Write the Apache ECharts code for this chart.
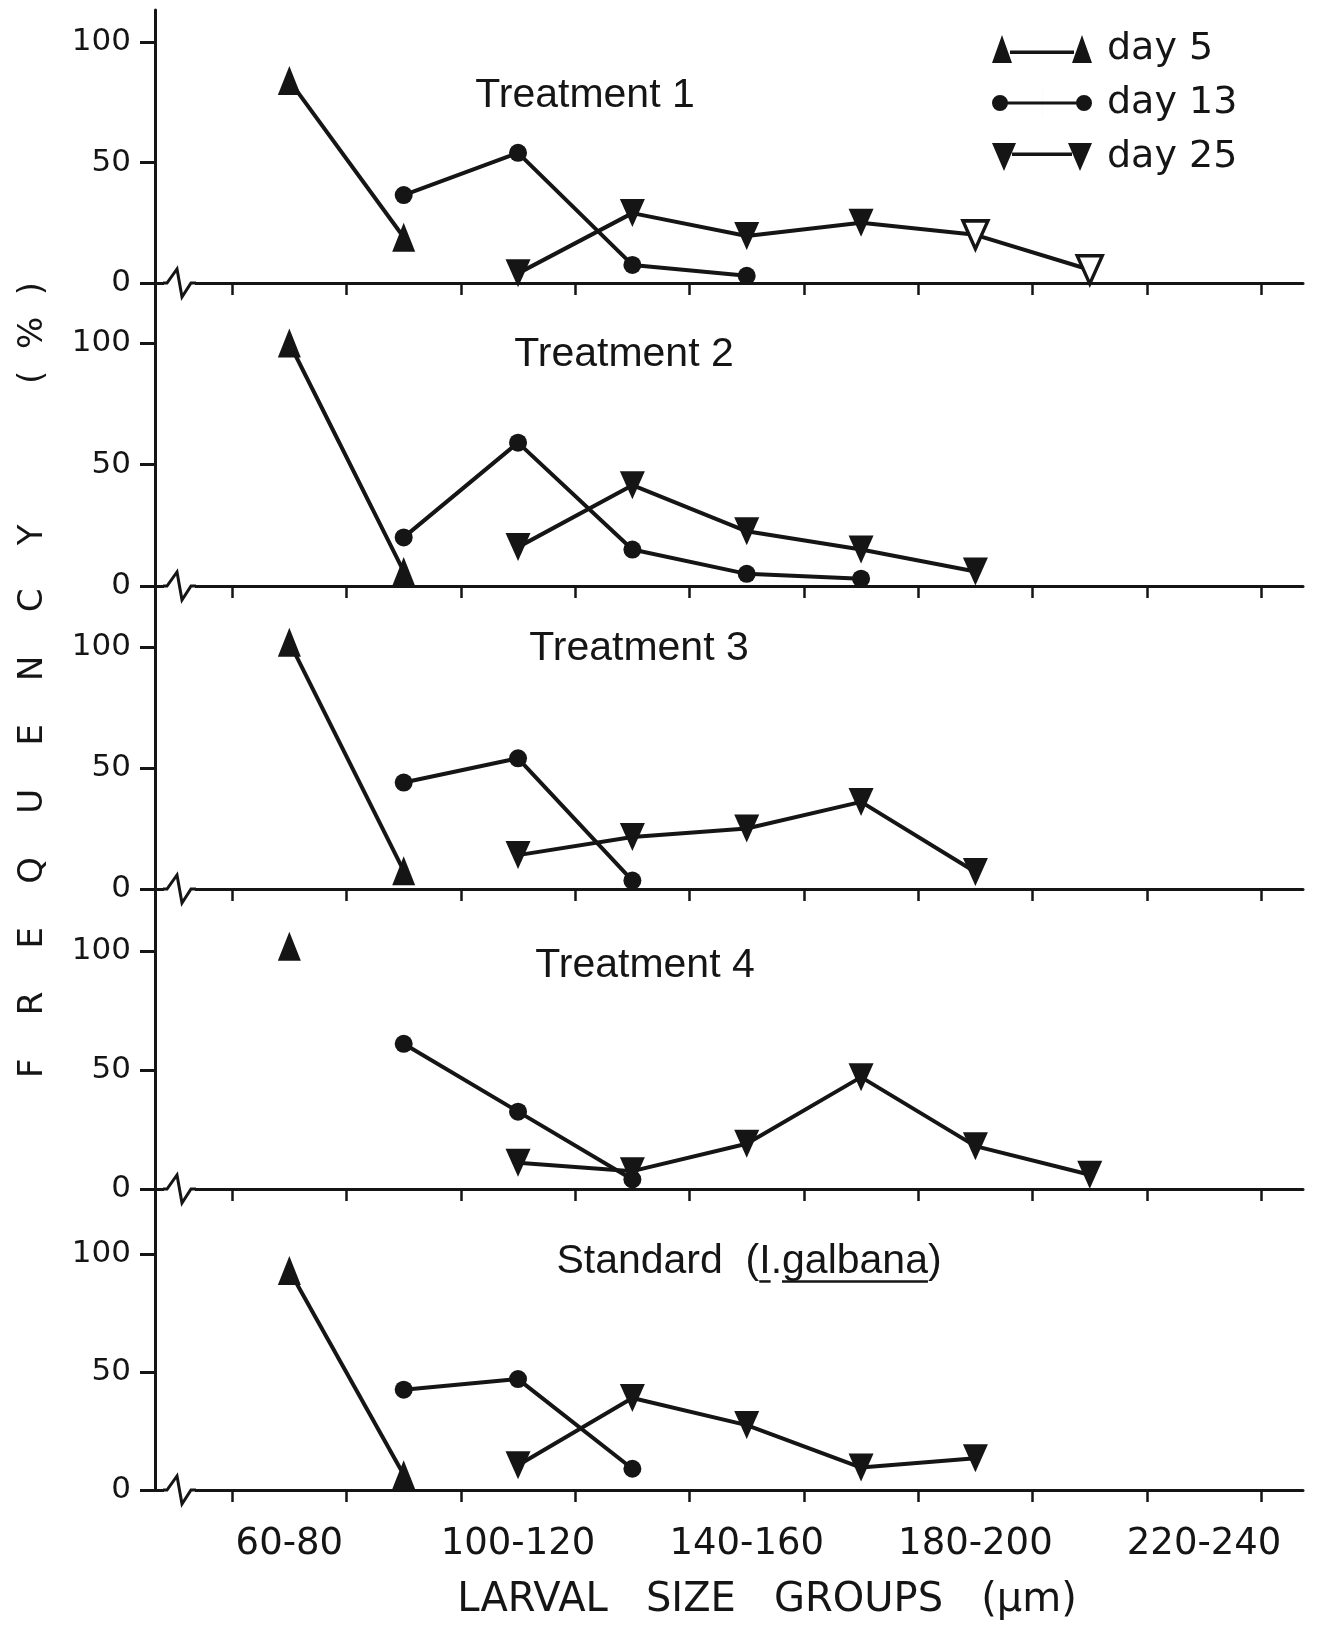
<!DOCTYPE html>
<html><head><meta charset="utf-8">
<script src="https://cdn.jsdelivr.net/npm/echarts@6/dist/echarts.min.js"></script>
<style>html,body{margin:0;padding:0;background:#fff}#c{width:1321px;height:1641px}</style>
</head><body><div id="c"></div>
<script>
// ---------------- data ----------------
const X_CENTERS = [70, 90, 110, 130, 150, 170, 190, 210, 230];
const BOUNDARY_TICKS = [60, 80, 100, 120, 140, 160, 180, 200, 220, 240];
const LABEL_POSITIONS = [70, 110, 150, 190, 230];
const TICK_LABELS = ['60-80', '100-120', '140-160', '180-200', '220-240'];
const Y_TICKS = [0, 50, 100];
const PANEL_TITLES = ['Treatment 1', 'Treatment 2', 'Treatment 3', 'Treatment 4', 'Standard  (I.galbana)'];
const SERIES_NAMES = ['day 5', 'day 13', 'day 25'];
const X_TITLE = 'LARVAL   SIZE   GROUPS   (\u00b5m)';
const Y_TITLE = 'F    R    E    Q    U    E    N    C    Y             (  %  )';

const T1_DAY5  = [84, 19, null, null, null, null, null, null, null];
const T1_DAY13 = [null, 36.5, 54, 7.5, 3, null, null, null, null];
const T1_DAY25 = [null, null, 4, 29, 19.5, 25, 20, 5.5, null];

const T2_DAY5  = [100, 6, null, null, null, null, null, null, null];
const T2_DAY13 = [null, 20, 59, 15, 5, 3, null, null, null];
const T2_DAY25 = [null, null, 16, 41.5, 22.5, 15, 6, null, null];

const T3_DAY5  = [102, 7.5, null, null, null, null, null, null, null];
const T3_DAY13 = [null, 44, 54, 3.5, null, null, null, null, null];
const T3_DAY25 = [null, null, 14, 21.5, 25, 36, 7, null, null];

const T4_DAY5  = [102, null, null, null, null, null, null, null, null];
const T4_DAY13 = [null, 61, 32.5, 4, null, null, null, null, null];
const T4_DAY25 = [null, null, 11, 7.5, 19, 47, 18, 6, null];

const STD_DAY5  = [93, 6.5, null, null, null, null, null, null, null];
const STD_DAY13 = [null, 42.5, 47, 9, null, null, null, null, null];
const STD_DAY25 = [null, null, 10.5, 39, 27.5, 9.5, 13.5, null, null];

// open (hollow) symbols: Treatment 1, day 25, these size-group centres
const OPEN_T1_DAY25 = [190, 210];

// ---------------- layout ----------------
const PANEL_DATA = [
  [T1_DAY5, T1_DAY13, T1_DAY25],
  [T2_DAY5, T2_DAY13, T2_DAY25],
  [T3_DAY5, T3_DAY13, T3_DAY25],
  [T4_DAY5, T4_DAY13, T4_DAY25],
  [STD_DAY5, STD_DAY13, STD_DAY25]
];
const LAYOUT = [
  {top: 10,   y100: 42,   y0: 283,  tx: 585, ty: 96},
  {top: 283,  y100: 343,  y0: 586,  tx: 624, ty: 355},
  {top: 586,  y100: 647,  y0: 889,  tx: 639, ty: 649},
  {top: 889,  y100: 951,  y0: 1189, tx: 645, ty: 966},
  {top: 1189, y100: 1254, y0: 1490, tx: 749, ty: 1262}
];
const LEFT = 155, RIGHT = 18, X_MIN = 46.5, X_MAX = 247.3;
const INK = '#151515';
const FONT = '"DejaVu Sans", sans-serif';
const TFONT = '"Liberation Sans", Arial, sans-serif';

const MARKERS = [
  {symbol: 'triangle', symbolSize: [23, 29], symbolRotate: 0},
  {symbol: 'circle', symbolSize: 18, symbolRotate: 0},
  {symbol: 'triangle', symbolSize: [25, 28], symbolRotate: 180}
];

const ICONS = [
  'path://M0,28 L10,0 L20,28 Z M18,15.5 L82,15.5 L82,19 L18,19 Z M80,28 L90,0 L100,28 Z',
  'path://M0,14 A8,8 0 1 1 16,14 A8,8 0 1 1 0,14 Z M14,12.5 L86,12.5 L86,15.5 L14,15.5 Z M84,14 A8,8 0 1 1 100,14 A8,8 0 1 1 84,14 Z M50,0 L50.02,0 L50.02,28 L50,28 Z',
  'path://M0,0 L24,0 L12,28 Z M20,9.5 L80,9.5 L80,13 L20,13 Z M76,0 L100,0 L88,28 Z'
];

const grids = [], xAxes = [], yAxes = [], series = [];
LAYOUT.forEach((L, i) => {
  grids.push({left: LEFT, right: RIGHT, top: L.top, height: L.y0 - L.top, outerBoundsMode: 'none', containLabel: false});
  const last = i === LAYOUT.length - 1;
  xAxes.push({
    gridIndex: i, type: 'value', min: X_MIN, max: X_MAX,
    axisLine: {show: true, onZero: false, lineStyle: {color: INK, width: 3}},
    axisTick: {show: true, customValues: BOUNDARY_TICKS, length: 12, lineStyle: {color: INK, width: 2.5}},
    axisLabel: {show: last, customValues: LABEL_POSITIONS, margin: 36, fontSize: 37, fontFamily: FONT, color: INK,
      formatter: v => TICK_LABELS[LABEL_POSITIONS.indexOf(v)] || ''},
    splitLine: {show: false},
    name: last ? X_TITLE : '', nameLocation: 'middle', nameGap: 91,
    nameTextStyle: {fontSize: 40, fontFamily: FONT, color: INK, padding: [0, 0, 0, 76]}
  });
  yAxes.push({
    gridIndex: i, type: 'value', min: 0, max: 100 * (L.y0 - L.top) / (L.y0 - L.y100),
    axisLine: {show: true, lineStyle: {color: INK, width: 3}},
    axisTick: {show: true, customValues: Y_TICKS, length: 15, lineStyle: {color: INK, width: 3}},
    axisLabel: {show: true, customValues: Y_TICKS, margin: 24, fontSize: 31, fontFamily: FONT, color: INK},
    splitLine: {show: false}
  });
  PANEL_DATA[i].forEach((arr, k) => {
    const data = [];
    arr.forEach((v, j) => {
      if (v == null) return;
      const x = X_CENTERS[j];
      if (i === 0 && k === 2 && OPEN_T1_DAY25.indexOf(x) >= 0) {
        data.push({value: [x, v], itemStyle: {color: '#fff', borderColor: INK, borderWidth: 3.5}});
      } else {
        data.push([x, v]);
      }
    });
    series.push(Object.assign({
      type: 'line', name: SERIES_NAMES[k], xAxisIndex: i, yAxisIndex: i, data: data,
      showAllSymbol: true, clip: false, animation: false, silent: true,
      lineStyle: {color: INK, width: 4},
      itemStyle: {color: INK, borderWidth: 0},
      z: 3 + k
    }, MARKERS[k]));
  });
});

// ---------------- graphics (titles, breaks, axis title) ----------------
const graphic = [];
const ctx = document.createElement('canvas').getContext('2d');
const TSIZE = 41;
ctx.font = TSIZE + 'px ' + TFONT;
LAYOUT.forEach((L, i) => {
  graphic.push({type: 'text', x: L.tx, y: L.ty, z: 20,
    style: {text: PANEL_TITLES[i], font: TSIZE + 'px ' + TFONT, fill: INK, align: 'center', verticalAlign: 'middle'}});
  // axis break marks
  graphic.push({type: 'rect', z: 20, shape: {x: LEFT + 9, y: L.y0 - 3, width: 31, height: 6}, style: {fill: '#fff'}});
  graphic.push({type: 'polyline', z: 21,
    shape: {points: [[LEFT + 8, L.y0], [LEFT + 12, L.y0], [LEFT + 22, L.y0 - 14], [LEFT + 27, L.y0 + 14], [LEFT + 36, L.y0], [LEFT + 41, L.y0]]},
    style: {stroke: INK, lineWidth: 3, fill: null}});
});
// underline the species name in the last title
(function () {
  const L = LAYOUT[4], t = PANEL_TITLES[4];
  const total = ctx.measureText(t).width;
  const start = L.tx - total / 2;
  const iStart = t.indexOf('(') + 1;
  const gStart = t.indexOf('galbana');
  const uy = L.ty + 0.3465 * TSIZE + 4;
  const segs = [
    [start + ctx.measureText(t.slice(0, iStart)).width, ctx.measureText('I').width],
    [start + ctx.measureText(t.slice(0, gStart)).width, ctx.measureText('galbana').width]
  ];
  segs.forEach(s => graphic.push({type: 'rect', z: 20, shape: {x: s[0], y: uy, width: s[1], height: 2.5}, style: {fill: INK}}));
})();
graphic.push({type: 'text', x: 33, y: 680, rotation: Math.PI / 2, z: 20,
  style: {text: Y_TITLE, font: '34px ' + FONT, fill: INK, align: 'center', verticalAlign: 'middle'}});

const chart = echarts.init(document.getElementById('c'), null, {renderer: 'canvas'});
chart.setOption({
  backgroundColor: '#fff',
  animation: false,
  grid: grids, xAxis: xAxes, yAxis: yAxes, series: series,
  legend: {
    orient: 'vertical', left: 992, top: 30, padding: 0,
    itemWidth: 100, itemHeight: 28, itemGap: 16, selectedMode: false,
    itemStyle: {color: INK, borderWidth: 0},
    textStyle: {fontSize: 38, fontFamily: FONT, color: INK, padding: [0, 0, 0, 10]},
    data: SERIES_NAMES.map((n, k) => ({name: n, icon: ICONS[k]}))
  },
  graphic: graphic
});
</script></body></html>
